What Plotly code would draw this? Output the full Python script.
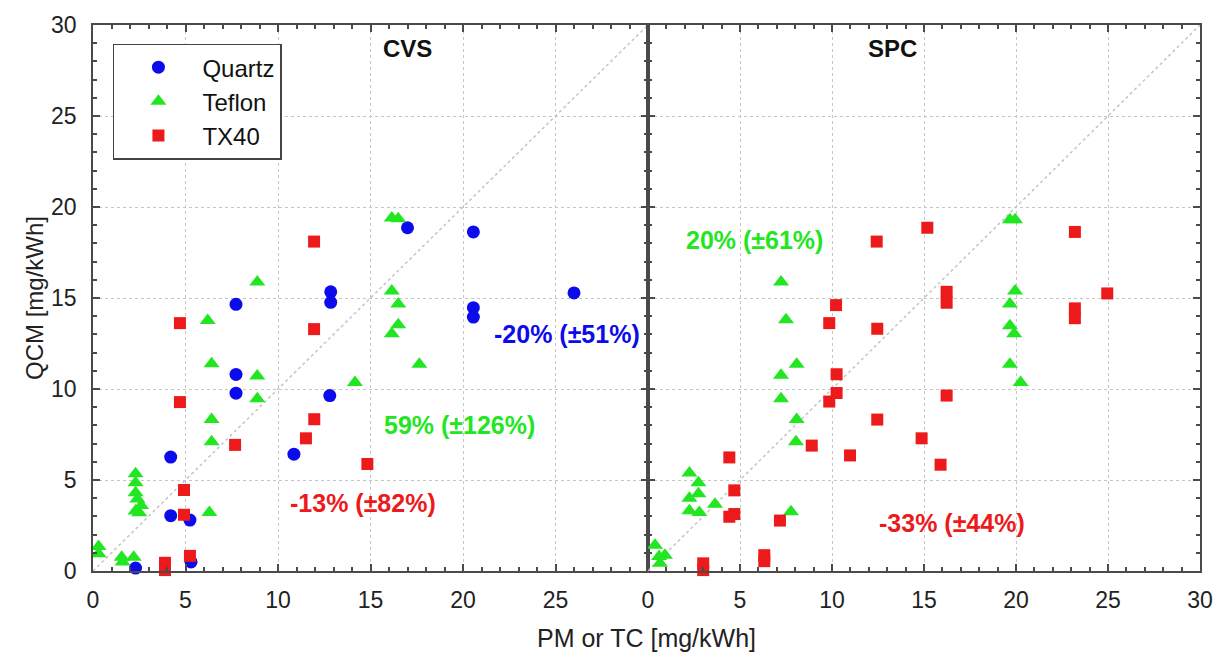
import plotly.graph_objects as go

# ---- data ----
cvs_quartz_x = [2.3, 5.3, 4.2, 5.24, 4.2, 7.73, 7.73, 7.73, 12.85, 12.85, 12.8, 10.86, 17.0, 20.56, 20.56, 20.56, 26.0]
cvs_quartz_y = [0.16, 0.5, 3.04, 2.8, 6.26, 10.8, 9.77, 14.65, 15.34, 14.76, 9.64, 6.42, 18.86, 18.63, 14.47, 13.95, 15.28]

cvs_teflon_x = [8.88, 6.2, 6.41, 8.88, 8.88, 6.41, 6.41, 14.16, 6.29, 2.3, 2.3, 2.3, 2.4, 2.6, 2.3, 2.5,
                0.3, 0.3, 1.55, 1.6, 2.2, 16.15, 16.5, 16.15, 16.5, 16.5, 16.15, 17.64]
cvs_teflon_y = [15.88, 13.77, 11.39, 10.72, 9.46, 8.32, 7.1, 10.36, 3.22, 5.35, 4.85, 4.3, 3.95, 3.6, 3.3, 3.2,
                1.35, 0.95, 0.75, 0.5, 0.75, 19.4, 19.35, 15.39, 14.67, 13.53, 13.04, 11.36]

cvs_tx40_x = [11.95, 4.7, 11.95, 4.7, 11.96, 11.51, 7.68, 14.83, 4.92, 4.92, 5.24, 3.89, 3.89]
cvs_tx40_y = [18.1, 13.62, 13.29, 9.28, 8.34, 7.29, 6.93, 5.88, 4.45, 3.09, 0.83, 0.45, 0.05]

spc_teflon_x = [7.23, 7.5, 8.08, 7.23, 7.23, 8.08, 8.04, 7.77, 2.25, 2.74, 2.74, 2.25, 2.25, 2.79, 3.64,
                0.38, 0.92, 0.65, 0.6, 19.67, 19.95, 19.95, 19.67, 19.67, 19.9, 19.67, 20.25]
spc_teflon_y = [15.88, 13.8, 11.36, 10.76, 9.46, 8.32, 7.1, 3.26, 5.39, 4.85, 4.25, 4.0, 3.31, 3.22, 3.67,
                1.41, 0.87, 0.42, 0.8, 19.3, 19.3, 15.39, 14.67, 13.47, 13.04, 11.36, 10.36]

spc_tx40_x = [12.43, 15.18, 10.22, 9.85, 12.46, 10.25, 10.25, 9.85, 12.46, 14.87, 8.9, 10.98, 15.9, 16.23,
              16.23, 16.23, 23.2, 23.2, 23.2, 24.96, 4.42, 4.69, 4.42, 4.69, 7.17, 6.32, 6.32, 3.0, 3.0]
spc_tx40_y = [18.1, 18.86, 14.61, 13.62, 13.31, 10.81, 9.78, 9.31, 8.32, 7.29, 6.89, 6.35, 5.84, 9.64,
              15.34, 14.74, 18.63, 14.43, 13.89, 15.25, 6.24, 4.43, 2.98, 3.13, 2.77, 0.87, 0.54, 0.42, 0.05]

diag = [0, 30]

panel_titles = ["CVS", "SPC"]
x_ticks_left = [0, 5, 10, 15, 20, 25]
x_ticks_right = [0, 5, 10, 15, 20, 25, 30]
y_ticks = [0, 5, 10, 15, 20, 25, 30]

# annotation texts
cvs_quartz_note = "-20% (±51%)"
cvs_teflon_note = "59% (±126%)"
cvs_tx40_note = "-13% (±82%)"
spc_teflon_note = "20% (±61%)"
spc_tx40_note = "-33% (±44%)"

BLUE = "#0b0bec"
GREEN = "#22e622"
RED = "#ec1a1a"
FONT = "Liberation Sans, Arial, sans-serif"

fig = go.Figure()

for xa, ya in [("x", "y"), ("x2", "y2")]:
    fig.add_trace(go.Scatter(x=diag, y=diag, mode="lines", xaxis=xa, yaxis=ya,
                             line=dict(color="#c4c4c4", width=1.5, dash="dot"),
                             showlegend=False, hoverinfo="skip"))

mk_c = dict(symbol="circle", size=13, color=BLUE)
mk_t = dict(symbol="triangle-up", size=14, color=GREEN)
mk_s = dict(symbol="square", size=12, color=RED)

fig.add_trace(go.Scatter(x=cvs_quartz_x, y=cvs_quartz_y, mode="markers", name="Quartz",
                         marker=mk_c, legendgroup="q", cliponaxis=False))
fig.add_trace(go.Scatter(x=cvs_teflon_x, y=cvs_teflon_y, mode="markers", name="Teflon",
                         marker=mk_t, legendgroup="t", cliponaxis=False))
fig.add_trace(go.Scatter(x=cvs_tx40_x, y=cvs_tx40_y, mode="markers", name="TX40",
                         marker=mk_s, legendgroup="s", cliponaxis=False))
fig.add_trace(go.Scatter(x=spc_teflon_x, y=spc_teflon_y, mode="markers", name="Teflon",
                         marker=mk_t, legendgroup="t", showlegend=False, cliponaxis=False,
                         xaxis="x2", yaxis="y2"))
fig.add_trace(go.Scatter(x=spc_tx40_x, y=spc_tx40_y, mode="markers", name="TX40",
                         marker=mk_s, legendgroup="s", showlegend=False, cliponaxis=False,
                         xaxis="x2", yaxis="y2"))

split = (648 - 93) / 1107.0

axis_common = dict(range=[0, 30], showline=True, linecolor="#4a4a4a", linewidth=1.5,
                   mirror="allticks", ticks="inside", ticklen=7, tickwidth=1.5, tickcolor="#4a4a4a",
                   showgrid=True, gridcolor="#c6c6c6", griddash="dot", gridwidth=1.2,
                   zeroline=False, tickfont=dict(family=FONT, size=23, color="#222222"),
                   minor=dict(dtick=1, ticks="inside", ticklen=4, tickcolor="#4a4a4a", showgrid=False))

fig.update_layout(
    width=1228, height=660,
    margin=dict(l=93, r=28, t=18, b=89),
    paper_bgcolor="white", plot_bgcolor="white",
    font=dict(family=FONT, color="#222222"),
    xaxis=dict(axis_common, domain=[0, split], tickvals=x_ticks_left, anchor="y", ticklabelstandoff=8),
    xaxis2=dict(axis_common, domain=[split, 1], tickvals=x_ticks_right, anchor="y2", ticklabelstandoff=8),
    yaxis=dict(axis_common, tickvals=y_ticks, anchor="x", ticklabelstandoff=10,
               title=dict(text="QCM [mg/kWh]", font=dict(family=FONT, size=24), standoff=1)),
    yaxis2=dict(axis_common, tickvals=y_ticks, anchor="x2", matches="y", showticklabels=False),
    legend=dict(x=0.018, y=0.966, xanchor="left", yanchor="top",
                bordercolor="#444444", borderwidth=1.5, bgcolor="white",
                font=dict(family=FONT, size=24, color="#111111"),
                itemwidth=78, tracegroupgap=0),
    showlegend=True,
)

fig.add_annotation(text="PM or TC [mg/kWh]", xref="paper", yref="paper", x=0.5, y=-0.093,
                   showarrow=False, yanchor="top", font=dict(family=FONT, size=25, color="#222222"))

fig.add_annotation(text="<b>%s</b>" % panel_titles[0], xref="x", yref="y", x=17, y=28.7,
                   showarrow=False, font=dict(family=FONT, size=24, color="#111111"))
fig.add_annotation(text="<b>%s</b>" % panel_titles[1], xref="x2", yref="y2", x=13.3, y=28.7,
                   showarrow=False, font=dict(family=FONT, size=24, color="#111111"))

notes = [
    (cvs_quartz_note, "x", "y", 25.6, 13.0, BLUE),
    (cvs_teflon_note, "x", "y", 19.8, 8.0, GREEN),
    (cvs_tx40_note, "x", "y", 14.6, 3.75, RED),
    (spc_teflon_note, "x2", "y2", 5.8, 18.2, GREEN),
    (spc_tx40_note, "x2", "y2", 16.5, 2.65, RED),
]
for txt, xr, yr, xv, yv, col in notes:
    fig.add_annotation(text="<b>%s</b>" % txt, xref=xr, yref=yr, x=xv, y=yv, showarrow=False,
                       font=dict(family=FONT, size=25, color=col))

fig.write_html("out.html")
